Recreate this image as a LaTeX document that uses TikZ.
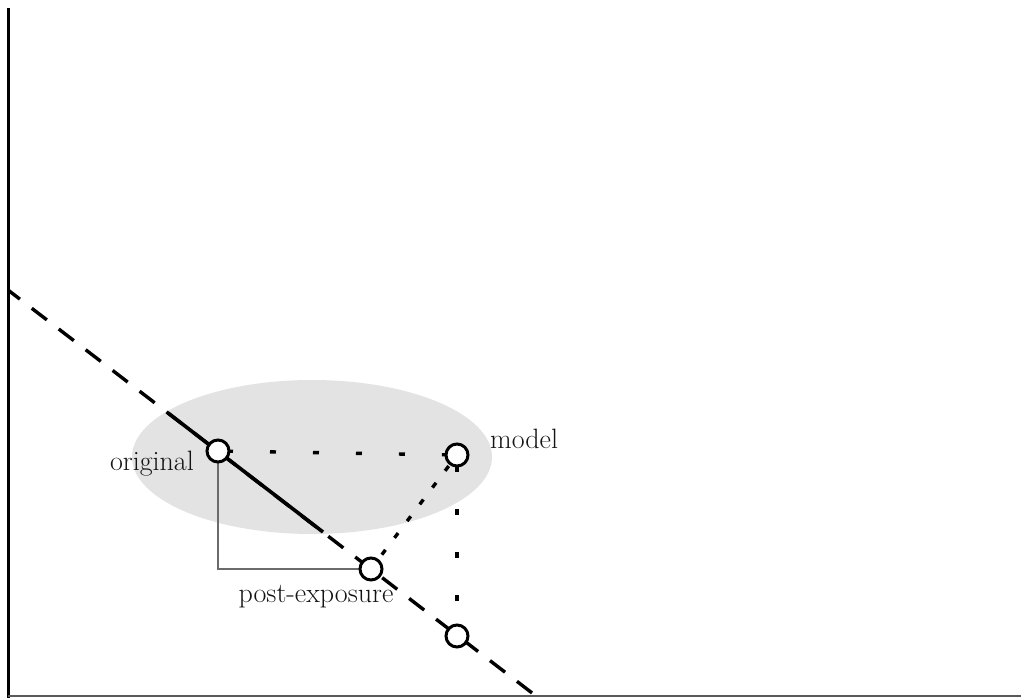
\documentclass[tikz,border=0pt]{standalone}
\begin{document}
\begin{tikzpicture}[x=1pt,y=-1pt,
  axis/.style={line width=3pt,black},
  baseaxis/.style={line width=2pt,black!65},
  trendline/.style={line width=3.4pt,dash pattern=on 19pt off 15pt,dash phase=4pt},
  fitline/.style={line width=3.6pt},
  dotline/.style={line width=3.4pt,dash pattern=on 6pt off 37pt},
  densedots/.style={line width=3.4pt,dash pattern=on 6pt off 15pt},
  guide/.style={line width=2pt,black!58},
  obs/.style={circle,draw,line width=3pt,fill=white,minimum size=22pt,inner sep=0pt},
  lbl/.style={font=\fontsize{28}{32}\selectfont,text=black!92,inner sep=0pt}]
\useasboundingbox (0,0) rectangle (1021,698);
% shaded region around the original and model points
\fill[black!11] (312,457) ellipse [x radius=180, y radius=77];
% axes
\coordinate (ytop) at (8,8);
\coordinate (origin) at (8,698);
\coordinate (xend) at (1021,696);
\coordinate (xstart) at (8,696);
\draw[axis] (ytop) -- (origin);
\draw[baseaxis] (xstart) -- (xend);
% regression line
\coordinate (lstart) at (8,290);
\coordinate (lend) at (536,696);
\coordinate (sA) at (168,413);
\coordinate (sB) at (323,532);
\draw[trendline] (lstart) -- (lend);
\draw[fitline] (sA) -- (sB);
% points
\coordinate (orig0) at (218,451);
\coordinate (post0) at (371,569);
\coordinate (mod0) at (457,455);
\coordinate (proj0) at (457,636);
\coordinate (corner) at (218,569);
% dotted links
\draw[dotline,dash phase=-9pt] (orig0) -- (mod0);
\draw[densedots,dash phase=3pt] (post0) -- (mod0);
\draw[dotline,dash phase=-11pt] (mod0) -- (proj0);
% right-angle guide
\draw[guide] (orig0) -- (corner) -- (post0);
% markers
\node[obs] (orig) at (orig0) {};
\node[obs] (post) at (post0) {};
\node[obs] (mod) at (mod0) {};
\node[obs] (proj) at (proj0) {};
% labels
\node[lbl,anchor=base east] (lorig) at (194,470) {original};
\node[lbl,anchor=base west] (lmod) at (490,448) {model};
\node[lbl,anchor=base] (lpost) at (316,602) {post-exposure};
\end{tikzpicture}
\end{document}
